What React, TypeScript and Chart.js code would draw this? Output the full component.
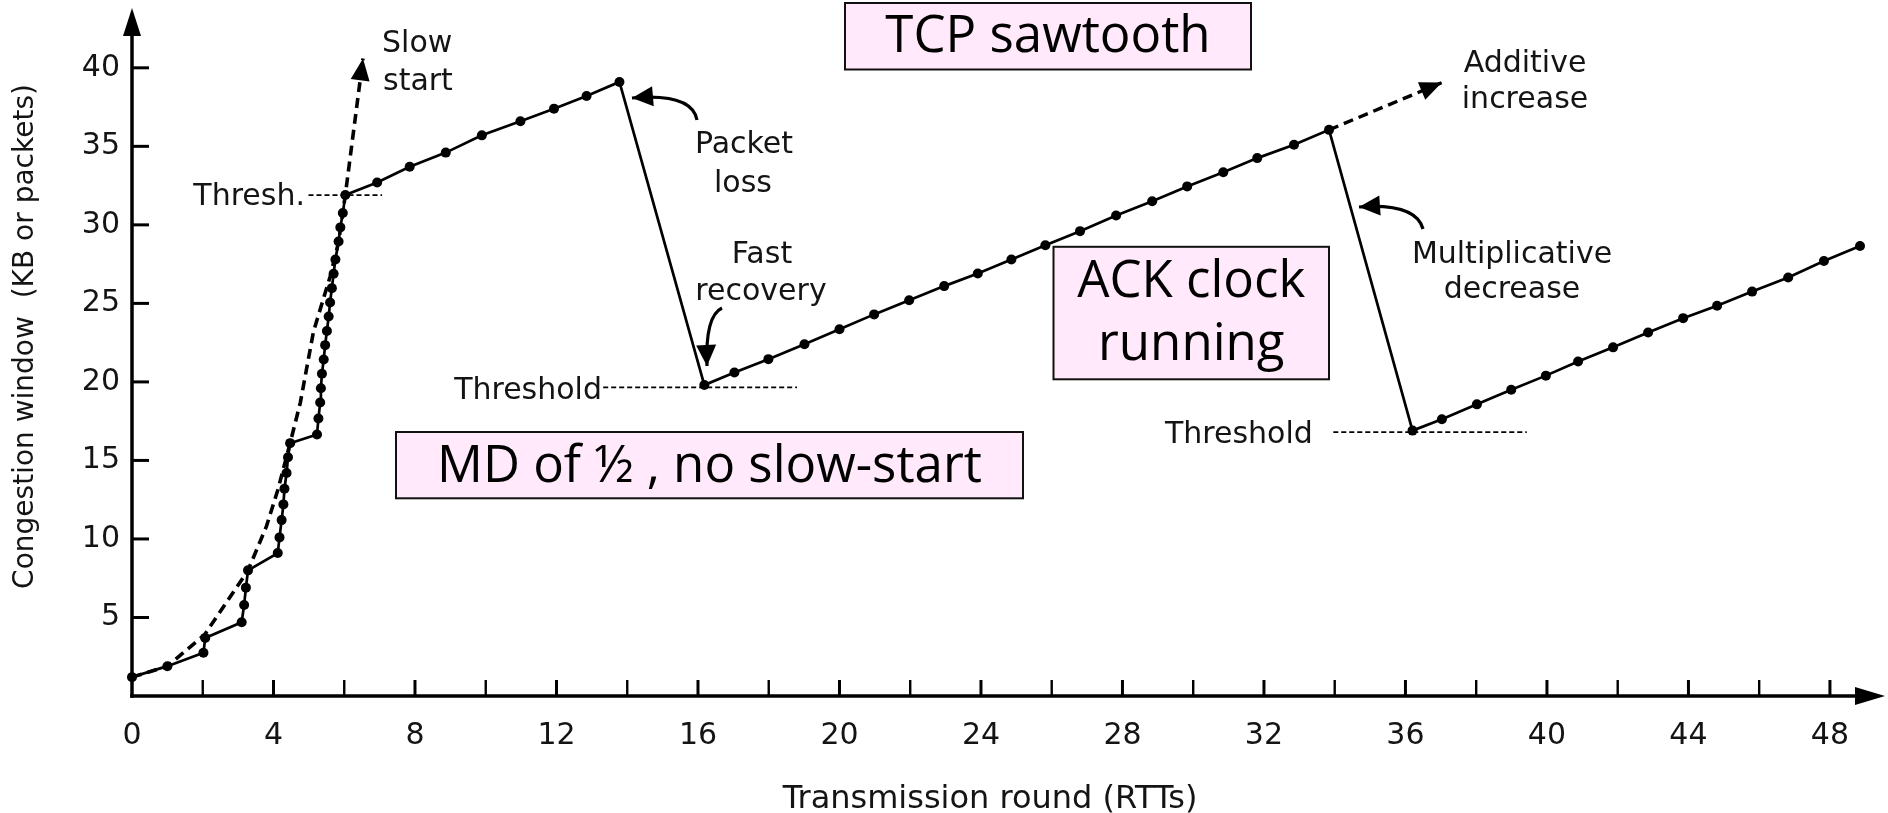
import React, { useEffect, useRef } from 'react';
import { Chart, registerables } from 'chart.js';

Chart.register(...registerables);

// ---------------- data ----------------
// congestion window trace (rounds in RTTs, window in KB / packets)
const cwndRounds = [
  0, 1.0, 2.02, 2.07,
  3.1, 3.17, 3.22, 3.28,
  4.12, 4.17, 4.23, 4.28, 4.31, 4.37, 4.41, 4.47,
  5.23, 5.27, 5.32, 5.34, 5.37, 5.42, 5.46, 5.51, 5.56, 5.6, 5.65, 5.7, 5.75, 5.84, 5.89, 5.96, 6.03,
  6.93, 7.85, 8.87, 9.89, 10.98, 11.93, 12.85, 13.78,
  16.18,
  17.03, 17.99, 19.01, 20.0, 20.98, 21.97, 22.96, 23.91, 24.86, 25.82, 26.8, 27.82, 28.84, 29.83, 30.85, 31.81, 32.85, 33.84,
  36.2,
  37.03, 38.02, 38.99, 39.97, 40.88, 41.87, 42.86, 43.85, 44.81, 45.8, 46.82, 47.83, 48.85,
];
const cwndValues = [
  1.2, 1.9, 2.75, 3.7,
  4.7, 5.8, 6.9, 8.0,
  9.1, 10.1, 11.2, 12.2, 13.2, 14.2, 15.2, 16.1,
  16.65, 17.67, 18.69, 19.6, 20.52, 21.43, 22.34, 23.24, 24.16, 25.06, 25.97, 26.89, 27.8, 28.94, 29.84, 30.75, 31.9,
  32.7, 33.7, 34.6, 35.7, 36.6, 37.4, 38.2, 39.1,
  19.8,
  20.6, 21.45, 22.4, 23.35, 24.3, 25.2, 26.1, 26.9, 27.8, 28.7, 29.6, 30.6, 31.5, 32.45, 33.35, 34.25, 35.1, 36.05,
  16.9,
  17.62, 18.57, 19.5, 20.4, 21.3, 22.2, 23.15, 24.06, 24.85, 25.75, 26.65, 27.7, 28.65,
];

// idealised slow start (dashed, with arrow)
const slowStartRounds = [0, 1.0, 2.05, 3.28, 3.8, 4.12, 4.47, 4.76, 5.13, 5.6, 5.84, 6.03, 6.53];
const slowStartValues = [1.2, 1.9, 3.9, 8.0, 10.8, 13.1, 16.1, 18.7, 23.2, 26.7, 28.9, 31.9, 40.6];

// additive increase continuation (dashed, with arrow)
const additiveRounds = [33.84, 37.03];
const additiveValues = [36.05, 39.06];

// threshold marks (dashed horizontal)
const thresholdLevels = [31.9, 19.65, 16.8];
const thresholdFrom = [4.99, 13.32, 33.96];
const thresholdTo = [7.07, 18.8, 39.43];

// axes
const xTickValues = [0, 2, 4, 6, 8, 10, 12, 14, 16, 18, 20, 22, 24, 26, 28, 30, 32, 34, 36, 38, 40, 42, 44, 46, 48];
const xTickLabels = ['0', '4', '8', '12', '16', '20', '24', '28', '32', '36', '40', '44', '48'];
const yTickValues = [5, 10, 15, 20, 25, 30, 35, 40];
const yTickLabels = ['5', '10', '15', '20', '25', '30', '35', '40'];

const xTitle = 'Transmission round (RTTs)';
const yTitle = 'Congestion window  (KB or packets)';

// ---------------- layout / styling ----------------
const W = 1888;
const H = 813;
const FIG_FONT = '"DejaVu Sans", "Liberation Sans", sans-serif';
const BOX_FONT = '"Open Sans", "Noto Sans", sans-serif';
const INK = '#141414';

const noteLabels = [
  { text: 'Slow', x: 382, y: 52, align: 'left' },
  { text: 'start', x: 383, y: 90, align: 'left' },
  { text: 'Thresh.', x: 305, y: 205, align: 'right' },
  { text: 'Packet', x: 744, y: 153, align: 'center' },
  { text: 'loss', x: 743, y: 191.5, align: 'center' },
  { text: 'Fast', x: 762, y: 263, align: 'center' },
  { text: 'recovery', x: 761, y: 300, align: 'center' },
  { text: 'Threshold', x: 602, y: 399, align: 'right' },
  { text: 'Additive', x: 1525, y: 71.5, align: 'center' },
  { text: 'increase', x: 1525, y: 108, align: 'center' },
  { text: 'Multiplicative', x: 1512, y: 263, align: 'center' },
  { text: 'decrease', x: 1512, y: 298, align: 'center' },
  { text: 'Threshold', x: 1165, y: 443, align: 'left' },
];

const curvedArrows = [
  { from: [697, 120], ctrl: [692, 93], to: [632, 98] },
  { from: [722, 308], ctrl: [705, 316], to: [707, 366] },
  { from: [1423, 229], ctrl: [1416, 203], to: [1359, 207] },
];

const boxes = [
  { lines: ['TCP sawtooth'], left: 845, top: 3, right: 1251, bottom: 69.5, baselines: [51.7] },
  { lines: ['ACK clock', 'running'], left: 1053.5, top: 246.8, right: 1329, bottom: 379.3, baselines: [296.7, 360] },
  { lines: ['MD of ½ , no slow-start'], left: 396, top: 432, right: 1023, bottom: 498.3, baselines: [481.7] },
];

function zip(xs: number[], ys: number[]) {
  return xs.map((x, i) => ({ x, y: ys[i] }));
}

function arrowHead(ctx: CanvasRenderingContext2D, fx: number, fy: number, tx: number, ty: number, len: number, half: number) {
  const a = Math.atan2(ty - fy, tx - fx);
  const bx = tx - len * Math.cos(a);
  const by = ty - len * Math.sin(a);
  ctx.beginPath();
  ctx.moveTo(tx, ty);
  ctx.lineTo(bx + half * Math.sin(a), by - half * Math.cos(a));
  ctx.lineTo(bx - half * Math.sin(a), by + half * Math.cos(a));
  ctx.closePath();
  ctx.fill();
}

const figurePlugin = {
  id: 'figurePlugin',
  beforeDatasetsDraw(chart: any) {
    const ctx: CanvasRenderingContext2D = chart.ctx;
    const xs = chart.scales.x;
    const ys = chart.scales.y;
    const x0 = xs.getPixelForValue(0);
    const y0 = ys.getPixelForValue(0);
    const area = chart.chartArea;
    ctx.save();
    ctx.strokeStyle = '#000';
    ctx.fillStyle = '#000';
    ctx.lineWidth = 3.5;
    ctx.lineCap = 'butt';
    // x axis + arrow
    ctx.beginPath();
    ctx.moveTo(x0 - 1.75, y0);
    ctx.lineTo(area.right - 20, y0);
    ctx.stroke();
    arrowHead(ctx, x0, y0, area.right + 2, y0, 30, 9);
    // y axis + arrow
    ctx.beginPath();
    ctx.moveTo(x0, y0 + 1.75);
    ctx.lineTo(x0, area.top + 20);
    ctx.stroke();
    arrowHead(ctx, x0, y0, x0, area.top + 3, 28, 9);
    // ticks (inward)
    xs.ticks.forEach((t: any) => {
      if (t.value === 0) return;
      const px = xs.getPixelForValue(t.value);
      ctx.lineWidth = t.value % 4 === 0 ? 3 : 2.4;
      ctx.beginPath();
      ctx.moveTo(px, y0);
      ctx.lineTo(px, y0 - 16);
      ctx.stroke();
    });
    ys.ticks.forEach((t: any) => {
      const py = ys.getPixelForValue(t.value);
      ctx.lineWidth = 3;
      ctx.beginPath();
      ctx.moveTo(x0, py);
      ctx.lineTo(x0 + 17, py);
      ctx.stroke();
    });
    // axis titles
    ctx.fillStyle = INK;
    ctx.font = `32px ${FIG_FONT}`;
    ctx.textAlign = 'center';
    ctx.textBaseline = 'alphabetic';
    ctx.fillText(xTitle, 990, 808);
    ctx.save();
    ctx.translate(33, 336.5);
    ctx.rotate(-Math.PI / 2);
    ctx.font = `28px ${FIG_FONT}`;
    ctx.fillText(yTitle, 0, 0);
    ctx.restore();
    ctx.restore();
  },
  afterDatasetsDraw(chart: any) {
    const ctx: CanvasRenderingContext2D = chart.ctx;
    ctx.save();
    ctx.fillStyle = '#000';
    // arrowheads at the end of the dashed slow-start and additive-increase lines
    [1, 2].forEach((di) => {
      const pts = chart.getDatasetMeta(di).data;
      const a = pts[pts.length - 2];
      const b = pts[pts.length - 1];
      arrowHead(ctx, a.x, a.y, b.x, b.y, 22, 9.5);
    });
    // curved pointer arrows
    ctx.strokeStyle = '#000';
    ctx.lineWidth = 3.2;
    curvedArrows.forEach((c) => {
      ctx.beginPath();
      ctx.moveTo(c.from[0], c.from[1]);
      ctx.quadraticCurveTo(c.ctrl[0], c.ctrl[1], c.to[0], c.to[1]);
      ctx.stroke();
      arrowHead(ctx, c.ctrl[0], c.ctrl[1], c.to[0], c.to[1], 21, 10);
    });
    // text notes
    ctx.fillStyle = INK;
    ctx.font = `30px ${FIG_FONT}`;
    ctx.textBaseline = 'alphabetic';
    noteLabels.forEach((n) => {
      ctx.textAlign = n.align as CanvasTextAlign;
      ctx.fillText(n.text, n.x, n.y);
    });
    // pink call-out boxes
    boxes.forEach((b) => {
      ctx.fillStyle = '#ffe9fa';
      ctx.fillRect(b.left, b.top, b.right - b.left, b.bottom - b.top);
      ctx.strokeStyle = '#111';
      ctx.lineWidth = 2;
      ctx.strokeRect(b.left, b.top, b.right - b.left, b.bottom - b.top);
      ctx.fillStyle = '#000';
      ctx.font = `51px ${BOX_FONT}`;
      ctx.textAlign = 'center';
      b.lines.forEach((l, i) => ctx.fillText(l, (b.left + b.right) / 2, b.baselines[i]));
    });
    ctx.restore();
  },
};

export default function App() {
  const ref = useRef<HTMLCanvasElement>(null);

  useEffect(() => {
    const canvas = ref.current;
    if (!canvas) return;

    const thresholdSets = thresholdLevels.map((lv, i) => ({
      data: [
        { x: thresholdFrom[i], y: lv },
        { x: thresholdTo[i], y: lv },
      ],
      showLine: true,
      borderColor: '#000',
      borderWidth: 1.8,
      borderDash: [5, 3],
      pointRadius: 0,
      clip: false as any,
    }));

    const chart = new Chart(canvas, {
      type: 'scatter',
      data: {
        datasets: [
          {
            data: zip(cwndRounds, cwndValues),
            showLine: true,
            borderColor: '#000',
            borderWidth: 2.7,
            pointRadius: 5,
            pointBackgroundColor: '#000',
            pointBorderWidth: 0,
            clip: false as any,
          },
          {
            data: zip(slowStartRounds, slowStartValues),
            showLine: true,
            borderColor: '#000',
            borderWidth: 3.6,
            borderDash: [10, 6],
            pointRadius: 0,
            clip: false as any,
          },
          {
            data: zip(additiveRounds, additiveValues),
            showLine: true,
            borderColor: '#000',
            borderWidth: 3.4,
            borderDash: [10, 6],
            pointRadius: 0,
            clip: false as any,
          },
          ...thresholdSets,
        ],
      },
      options: {
        animation: false,
        responsive: false,
        devicePixelRatio: 1,
        events: [],
        layout: { padding: { top: 2, right: 5, left: 0, bottom: 0 } },
        plugins: { legend: { display: false }, tooltip: { enabled: false } },
        scales: {
          x: {
            type: 'linear',
            min: 0,
            max: 49.5,
            grid: { display: false, drawTicks: false },
            border: { display: false },
            ticks: {
              autoSkip: false,
              maxRotation: 0,
              padding: 22,
              color: INK,
              font: { family: FIG_FONT, size: 30 },
              callback: (v: any) => {
                const s = String(v);
                return xTickLabels.includes(s) ? s : '';
              },
            },
            afterBuildTicks: (s: any) => {
              s.ticks = xTickValues.map((v) => ({ value: v }));
            },
            afterFit: (s: any) => {
              s.height = 117;
              s.paddingLeft = 0;
              s.paddingRight = 0;
            },
          },
          y: {
            type: 'linear',
            min: 0,
            max: 44,
            grid: { display: false, drawTicks: false },
            border: { display: false },
            ticks: {
              padding: 12,
              color: INK,
              font: { family: FIG_FONT, size: 30 },
              callback: (v: any) => {
                const s = String(v);
                return yTickLabels.includes(s) ? s : '';
              },
            },
            afterBuildTicks: (s: any) => {
              s.ticks = yTickValues.map((v) => ({ value: v }));
            },
            afterFit: (s: any) => {
              s.width = 132;
              s.paddingTop = 0;
              s.paddingBottom = 0;
            },
          },
        },
      },
      plugins: [figurePlugin],
    } as any);

    return () => chart.destroy();
  }, []);

  return (
    <div style={{ position: 'absolute', left: 0, top: 0, width: W, height: H, background: '#fff' }}>
      <canvas ref={ref} width={W} height={H} style={{ display: 'block', width: W, height: H }} />
    </div>
  );
}
